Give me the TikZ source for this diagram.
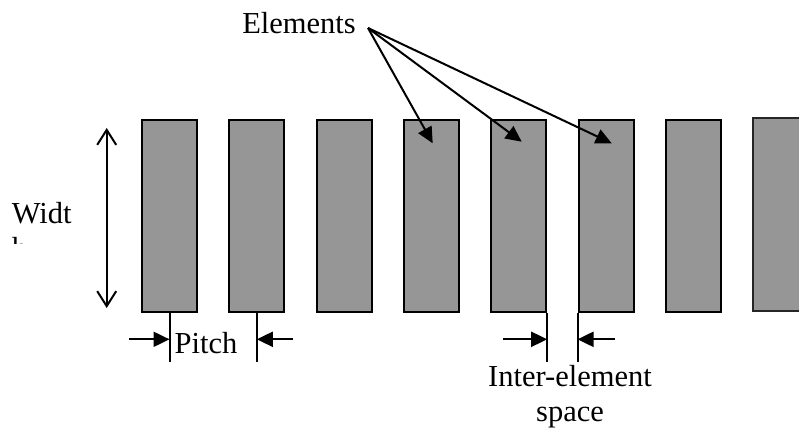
\documentclass[tikz,border=0pt]{standalone}
\usepackage{fontspec}
\setmainfont{Liberation Serif}
\usetikzlibrary{arrows.meta}
\definecolor{elemgray}{RGB}{150,150,150}
\begin{document}
\begin{tikzpicture}[x=1pt,y=-1pt,
  elembox/.style={draw=black,line width=2pt,fill=elemgray,minimum width=55pt,minimum height=192pt,inner sep=0pt,anchor=north west},
  lbl/.style={inner sep=0pt,font=\fontsize{30.5}{35}\selectfont},
  conn/.style={line width=2pt},
  filltip/.style={conn,-{Triangle[length=16pt,width=15pt]}},
  opentip/.style={conn,{Straight Barb[length=15pt,width=19pt,line width=2pt]}-{Straight Barb[length=15pt,width=19pt,line width=2pt]}}]
\useasboundingbox (0,0) rectangle (799,434);
\foreach \i in {1,...,7}{
  \node[elembox] (e\i) at ({141+87.3*(\i-1)},119) {};
}
\node[elembox,draw=black!85,minimum width=70pt,minimum height=192.5pt] (e8) at (752,117) {};
% Elements label and arrows
\node[lbl,anchor=base] (elab) at (299,33.3) {Elements};
\coordinate (eorig) at (368,28);
\coordinate (t3) at (432.7,143.3);
\coordinate (t4) at (521.7,141.7);
\coordinate (t5) at (611.7,143.3);
\draw[filltip] (eorig) -- (t3);
\draw[filltip] (eorig) -- (t4);
\draw[filltip] (eorig) -- (t5);
% Width
\coordinate (wtop) at (106.7,128);
\coordinate (wbot) at (106.7,308);
\draw[opentip] (wtop) -- (wbot);
\node[lbl,anchor=base west] (wlab) at (11.7,223.3) {Widt};
\begin{scope}
\clip (0,230) rectangle (80,243.5);
\node[lbl,anchor=base west] (hlab) at (11.7,258.3) {h};
\end{scope}
% Pitch
\coordinate (p1) at (e1.south);
\coordinate (p2) at (e2.south);
\coordinate (p1b) at ([yshift=-49pt]p1);
\coordinate (p2b) at ([yshift=-49pt]p2);
\draw[conn] (p1) -- (p1b);
\draw[conn] (p2) -- (p2b);
\coordinate (pa1) at (129,339.3);
\coordinate (pa1t) at (e1.south |- pa1);
\coordinate (pa2) at (293,339.3);
\coordinate (pa2t) at (e2.south |- pa2);
\draw[filltip] (pa1) -- (pa1t);
\draw[filltip] (pa2) -- (pa2t);
\node[lbl,anchor=base west] (plab) at (174.5,353.3) {Pitch};
% Inter-element space
\coordinate (s1) at (e5.south east);
\coordinate (s2) at (e6.south west);
\coordinate (s1b) at ([yshift=-49pt]s1);
\coordinate (s2b) at ([yshift=-49pt]s2);
\draw[conn] (s1) -- (s1b);
\draw[conn] (s2) -- (s2b);
\coordinate (sa1) at (503,339.3);
\coordinate (sa1t) at (s1 |- sa1);
\coordinate (sa2) at (615,339.3);
\coordinate (sa2t) at (s2 |- sa2);
\draw[filltip] (sa1) -- (sa1t);
\draw[filltip] (sa2) -- (sa2t);
\node[lbl,anchor=base] (ilab) at (570,386.7) {Inter-element};
\node[lbl,anchor=base] (slab) at (570,421.7) {space};
\end{tikzpicture}
\end{document}
